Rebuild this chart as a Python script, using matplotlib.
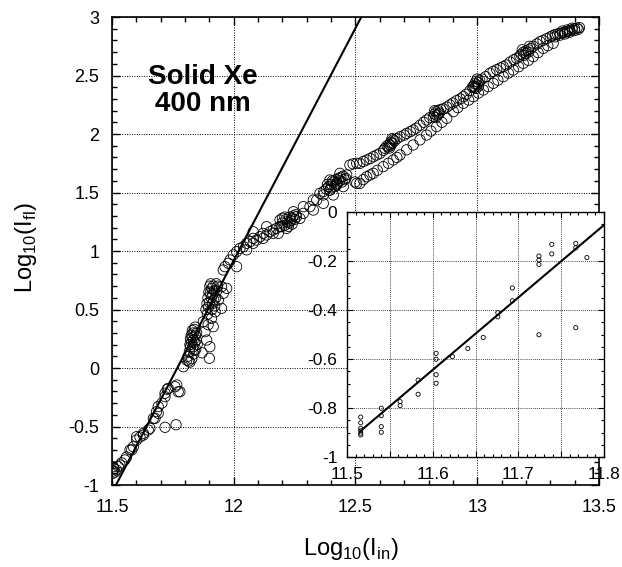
import numpy as np
import matplotlib
matplotlib.use("Agg")
import matplotlib.pyplot as plt
from matplotlib.ticker import MultipleLocator, FuncFormatter

plt.rcParams['font.family'] = ['Liberation Sans', 'DejaVu Sans']
plt.rcParams['mathtext.fontset'] = 'custom'
plt.rcParams['mathtext.rm'] = 'Liberation Sans'

# ---- main panel data: log10(I_in) vs log10(I_fl) ----
# steep (low-intensity) part, scattered points
steep_x = [11.503, 11.505, 11.505, 11.508, 11.512, 11.518, 11.526, 11.533, 11.540, 11.553, 11.560,
           11.574, 11.581, 11.588, 11.601, 11.601, 11.615, 11.629, 11.629, 11.649, 11.656, 11.670,
           11.677, 11.683, 11.690, 11.690, 11.705, 11.718, 11.718, 11.727, 11.731, 11.759, 11.766,
           11.772, 11.779, 11.718, 11.763, 11.793, 11.807, 11.820,
           11.875, 11.882, 11.889, 11.902, 11.900, 11.916, 11.909, 11.870, 11.895,
           11.950, 11.971, 11.957, 11.950, 11.937, 11.957, 11.964, 11.978, 11.985, 12.012,
           11.998, 12.012, 12.026, 12.040, 12.053, 12.053, 12.067, 12.080]
steep_y = [-0.90, -0.88, -0.844, -0.86, -0.89, -0.87, -0.843, -0.829, -0.81, -0.786, -0.76,
           -0.70, -0.70, -0.673, -0.615, -0.587, -0.59, -0.558, -0.573, -0.53, -0.515, -0.43,
           -0.43, -0.373, -0.387, -0.33, -0.30, -0.245, -0.216, -0.182, -0.174, -0.16, -0.145,
           -0.203, -0.203, -0.507, -0.485, 0.011, 0.068, 0.05,
           0.396, 0.31, 0.239, 0.182, 0.083, 0.353, 0.425, 0.13, 0.37,
           0.695, 0.681, 0.638, 0.51, 0.58, 0.838, 0.866, 0.895, 0.923, 0.866,
           0.966, 0.994, 1.023, 1.037, 1.066, 1.01, 1.08, 1.108]

# dense cluster near log10(I_in) = 11.83
clusterA_x = [11.812, 11.818, 11.822, 11.826, 11.830, 11.834, 11.838, 11.842, 11.846, 11.850,
              11.844, 11.836, 11.828, 11.820, 11.832, 11.840, 11.826, 11.834, 11.842, 11.815,
              11.848, 11.822, 11.838, 11.830]
clusterA_y = [0.10, 0.14, 0.18, 0.22, 0.26, 0.30, 0.33, 0.28, 0.24, 0.20,
              0.16, 0.12, 0.08, 0.20, 0.18, 0.22, 0.28, 0.24, 0.35, 0.06,
              0.30, 0.25, 0.15, 0.32]

# dense cluster near log10(I_in) = 11.91
clusterB_x = [11.886, 11.890, 11.894, 11.898, 11.902, 11.906, 11.910, 11.914, 11.918, 11.922,
              11.926, 11.930, 11.934, 11.900, 11.908, 11.916, 11.896, 11.920, 11.912, 11.904,
              11.928, 11.892, 11.910, 11.924]
clusterB_y = [0.50, 0.55, 0.60, 0.65, 0.70, 0.72, 0.68, 0.63, 0.58, 0.53,
              0.60, 0.66, 0.70, 0.56, 0.60, 0.70, 0.52, 0.66, 0.55, 0.64,
              0.72, 0.46, 0.50, 0.48]

# band after the knee (single branch)
band_x = [12.094, 12.108, 12.121, 12.135, 12.149, 12.162, 12.176, 12.183, 12.197,
          12.258, 12.286, 12.313, 12.341, 12.368, 12.395, 12.423,
          12.080, 12.121, 12.162, 12.217, 12.272, 12.327, 12.368, 12.409, 12.450,
          12.080, 12.135, 12.190, 12.245, 12.286, 12.327, 12.354, 12.395, 12.436, 12.464]
band_y = [1.094, 1.122, 1.151, 1.137, 1.165, 1.179, 1.193, 1.151, 1.208,
          1.293, 1.322, 1.379, 1.436, 1.479, 1.521, 1.564,
          1.066, 1.108, 1.151, 1.193, 1.279, 1.350, 1.407, 1.479, 1.550,
          1.165, 1.208, 1.265, 1.336, 1.379, 1.436, 1.493, 1.607, 1.664, 1.650]

clusterC_x = [12.190, 12.200, 12.210, 12.215, 12.220, 12.225, 12.230, 12.235, 12.240, 12.245,
              12.250, 12.255, 12.200, 12.210, 12.228, 12.240]
clusterC_y = [1.21, 1.24, 1.22, 1.27, 1.25, 1.21, 1.29, 1.26, 1.23, 1.30,
              1.27, 1.31, 1.28, 1.29, 1.24, 1.28]

clusterD_x = [12.370, 12.380, 12.390, 12.400, 12.410, 12.420, 12.430, 12.440, 12.450, 12.460,
              12.385, 12.395, 12.405, 12.415, 12.425, 12.435, 12.445, 12.455, 12.400, 12.420]
clusterD_y = [1.51, 1.53, 1.55, 1.57, 1.59, 1.61, 1.62, 1.63, 1.64, 1.62,
              1.57, 1.52, 1.60, 1.55, 1.58, 1.60, 1.59, 1.61, 1.54, 1.57]

# upper branch (open circles between the dense clusters)
upper_x = [12.477, 12.490, 12.505, 12.518, 12.532, 12.546, 12.560, 12.573, 12.587, 12.601,
           12.615, 12.621, 12.670, 12.683, 12.700, 12.710, 12.725, 12.737, 12.750, 12.765,
           12.780, 12.792, 12.805, 12.860, 12.875, 12.888, 12.900, 12.915, 12.930, 12.943,
           12.955, 12.970, 12.980, 13.020, 13.035, 13.052, 13.065, 13.080, 13.095, 13.107,
           13.120, 13.135, 13.150, 13.162, 13.175, 13.230, 13.245, 13.258, 13.270, 13.285]
upper_y = [1.735, 1.745, 1.750, 1.749, 1.765, 1.778, 1.790, 1.806, 1.820, 1.835,
           1.860, 1.878, 1.960, 1.977, 1.990, 2.005, 2.020, 2.034, 2.050, 2.075,
           2.100, 2.120, 2.140, 2.215, 2.230, 2.248, 2.265, 2.285, 2.300, 2.319,
           2.340, 2.370, 2.400, 2.470, 2.490, 2.519, 2.535, 2.550, 2.565, 2.576,
           2.590, 2.615, 2.635, 2.647, 2.665, 2.750, 2.770, 2.789, 2.800, 2.815]

# dense clusters on the upper branch
upper_dense_x = [12.635, 12.640, 12.645, 12.650, 12.655, 12.660, 12.640, 12.650, 12.630, 12.645,
                 12.820, 12.825, 12.830, 12.835, 12.840, 12.845, 12.850, 12.830, 12.840, 12.825,
                 12.985, 12.990, 12.995, 13.000, 13.005, 13.010, 12.990, 13.000, 12.995, 13.005,
                 13.180, 13.190, 13.200, 13.210, 13.220, 13.190, 13.200, 13.210, 13.185, 13.215,
                 13.300, 13.310, 13.320, 13.330, 13.340, 13.350, 13.360, 13.370, 13.380, 13.390,
                 13.400, 13.410, 13.420, 13.320, 13.340, 13.360, 13.380, 13.400, 13.350, 13.370,
                 13.390, 13.415]
upper_dense_y = [1.89, 1.91, 1.93, 1.92, 1.95, 1.94, 1.88, 1.96, 1.90, 1.90,
                 2.15, 2.17, 2.19, 2.16, 2.20, 2.18, 2.21, 2.14, 2.17, 2.20,
                 2.41, 2.43, 2.45, 2.42, 2.44, 2.46, 2.40, 2.47, 2.39, 2.41,
                 2.68, 2.70, 2.71, 2.72, 2.73, 2.67, 2.69, 2.70, 2.72, 2.75,
                 2.83, 2.84, 2.85, 2.855, 2.86, 2.865, 2.87, 2.875, 2.885, 2.89,
                 2.90, 2.905, 2.91, 2.83, 2.845, 2.855, 2.87, 2.885, 2.88, 2.89,
                 2.905, 2.895]

# lower branch
lower_x = [12.498, 12.505, 12.518, 12.532, 12.546, 12.560, 12.573, 12.590, 12.614, 12.635,
           12.655, 12.670, 12.683, 12.710, 12.737, 12.765, 12.792, 12.810, 12.833, 12.855,
           12.875, 12.902, 12.920, 12.943, 12.965, 12.984, 13.005, 13.025, 13.045, 13.066,
           13.085, 13.107, 13.128, 13.148, 13.170, 13.189, 13.210, 13.230, 13.250, 13.271,
           13.290, 13.312]
lower_y = [1.590, 1.578, 1.578, 1.610, 1.635, 1.650, 1.664, 1.690, 1.721, 1.750,
           1.778, 1.800, 1.821, 1.865, 1.906, 1.950, 1.991, 2.025, 2.063, 2.100,
           2.134, 2.191, 2.225, 2.262, 2.290, 2.319, 2.350, 2.376, 2.405, 2.433,
           2.460, 2.490, 2.520, 2.547, 2.575, 2.604, 2.630, 2.661, 2.695, 2.732,
           2.755, 2.775]

# straight-line fit through the low-intensity part
fit_slope = 3.97
fit_intercept = -46.72

# ---- inset data ----
inset_x = [11.739, 11.739, 11.724, 11.724, 11.724, 11.767, 11.767, 11.780, 11.693, 11.693,
           11.676, 11.676, 11.724, 11.767, 11.659, 11.641, 11.623, 11.604, 11.604, 11.604,
           11.604, 11.583, 11.583, 11.562, 11.562, 11.540, 11.540, 11.540, 11.540,
           11.516, 11.516, 11.516, 11.516, 11.516, 11.516]
inset_y = [-0.132, -0.171, -0.180, -0.196, -0.214, -0.128, -0.146, -0.186, -0.310, -0.362,
           -0.411, -0.428, -0.501, -0.472, -0.512, -0.557, -0.590, -0.577, -0.601, -0.664,
           -0.699, -0.686, -0.744, -0.774, -0.790, -0.801, -0.831, -0.876, -0.899,
           -0.837, -0.860, -0.883, -0.893, -0.903, -0.910]
inset_fit_x = [11.516, 11.800]
inset_fit_y = [-0.893, -0.053]

fig = plt.figure(figsize=(6.22, 5.67), dpi=100)
ax = fig.add_axes([0.180, 0.1446, 0.783, 0.8254])

all_x = (steep_x + clusterA_x + clusterB_x + band_x + clusterC_x + clusterD_x
         + upper_x + upper_dense_x + lower_x)
all_y = (steep_y + clusterA_y + clusterB_y + band_y + clusterC_y + clusterD_y
         + upper_y + upper_dense_y + lower_y)
ax.scatter(all_x, all_y, s=55, facecolors='none', edgecolors='black', linewidths=0.6, zorder=3)

lx = np.array([11.5, 12.6])
ax.plot(lx, fit_slope * lx + fit_intercept, color='black', lw=1.5, zorder=4)

ax.set_xlim(11.5, 13.5)
ax.set_ylim(-1, 3)
ax.xaxis.set_major_locator(MultipleLocator(0.5))
ax.xaxis.set_minor_locator(MultipleLocator(0.1))
ax.yaxis.set_major_locator(MultipleLocator(0.5))
ax.yaxis.set_minor_locator(MultipleLocator(0.1))
ax.xaxis.set_major_formatter(FuncFormatter(lambda v, p: f"{v:g}"))
ax.yaxis.set_major_formatter(FuncFormatter(lambda v, p: f"{v:g}"))
ax.tick_params(which='both', direction='in', top=True, right=True, width=1)
ax.tick_params(which='major', length=6, labelsize=13)
ax.tick_params(which='minor', length=3.5)
ax.tick_params(axis='x', pad=10)
ax.tick_params(axis='y', pad=9)
ax.grid(True, which='major', linestyle=(0, (1, 1.5)), color='black', lw=0.7)
for s in ax.spines.values():
    s.set_linewidth(1.2)

ax.text(11.874, 2.376, "Solid Xe\n400 nm", ha='center', va='center',
        fontsize=20, fontweight='bold', linespacing=1.05)

fig.text(0.564, 0.021, r"Log$_{\mathregular{10}}$(I$_{\mathregular{in}}$)",
         ha='center', va='baseline', fontsize=17)
fig.text(0.042, 0.563, r"Log$_{\mathregular{10}}$(I$_{\mathregular{fl}}$)",
         ha='center', va='center', rotation=90, fontsize=17)

# ---- inset ----
ins = fig.add_axes([0.5579, 0.1940, 0.4132, 0.4321])
ins.set_facecolor('white')
ins.scatter(inset_x, inset_y, s=9, facecolors='none', edgecolors='black', linewidths=0.6, zorder=3)
ins.plot(inset_fit_x, inset_fit_y, color='black', lw=1.5, zorder=4)
ins.set_xlim(11.5, 11.8)
ins.set_ylim(-1, 0)
ins.xaxis.set_major_locator(MultipleLocator(0.05))
ins.xaxis.set_minor_locator(MultipleLocator(0.01))
ins.yaxis.set_major_locator(MultipleLocator(0.2))
ins.yaxis.set_minor_locator(MultipleLocator(0.05))


def inset_xfmt(v, p):
    k = round(v / 0.05)
    return f"{v:.1f}" if k % 2 == 0 else ""


ins.xaxis.set_major_formatter(FuncFormatter(inset_xfmt))
ins.yaxis.set_major_formatter(FuncFormatter(lambda v, p: f"{v:g}" if abs(v) > 1e-9 else "0"))
ins.tick_params(which='both', direction='in', top=True, right=True, width=0.8)
ins.tick_params(which='major', length=4, labelsize=12.5)
ins.tick_params(which='minor', length=2.5)
ins.tick_params(axis='x', pad=7)
ins.tick_params(axis='y', pad=7)
ins.grid(True, which='major', linestyle=(0, (1, 1.5)), color='black', lw=0.6)
for s in ins.spines.values():
    s.set_linewidth(1.0)

fig.savefig("out.png", dpi=100)
